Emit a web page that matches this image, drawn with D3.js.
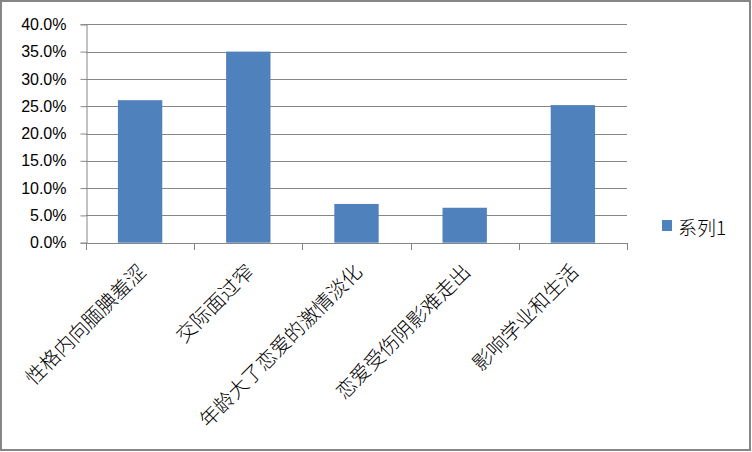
<!DOCTYPE html>
<html>
<head>
<meta charset="utf-8">
<script src="https://cdn.jsdelivr.net/npm/d3@7"></script>
<style>
  body { margin: 0; background: #fff; }
</style>
</head>
<body>
<div id="chart"></div>
<script>
var categories = ["性格内向腼腆羞涩", "交际面过窄", "年龄大了恋爱的激情淡化", "恋爱受伤阴影难走出", "影响学业和生活"];
var values = [0.261, 0.350, 0.071, 0.064, 0.252];
var yTicks = [0, 0.05, 0.10, 0.15, 0.20, 0.25, 0.30, 0.35, 0.40];
var seriesName = "系列1";

var width = 752, height = 452;
var plotLeft = 86, plotRight = 627, plotTop = 24.3, plotBottom = 242.7;
var gray = "#868686", barColor = "#4F81BD";
var cjk = "'Noto Sans CJK SC', sans-serif";

var svg = d3.select("#chart").append("svg")
    .attr("width", width)
    .attr("height", height);

svg.append("rect")
    .attr("x", 0).attr("y", 0)
    .attr("width", width).attr("height", height)
    .attr("fill", "#fff");

// outer border
svg.append("rect")
    .attr("x", 1).attr("y", 1)
    .attr("width", 749).attr("height", 449)
    .attr("fill", "none")
    .attr("stroke", gray)
    .attr("stroke-width", 2);

var x = d3.scaleBand()
    .domain(categories)
    .range([plotLeft, plotRight])
    .padding(0);

var y = d3.scaleLinear()
    .domain([0, 0.4])
    .range([plotBottom, plotTop]);

// gridlines
svg.append("g")
    .selectAll("line")
    .data(yTicks.slice(1))
    .join("line")
    .attr("x1", plotLeft).attr("x2", plotRight)
    .attr("y1", d => Math.round(y(d)) + 0.5)
    .attr("y2", d => Math.round(y(d)) + 0.5)
    .attr("stroke", gray)
    .attr("stroke-width", 1);

// y axis
var yAxis = d3.axisLeft(y)
    .tickValues(yTicks)
    .tickSize(6)
    .tickPadding(14)
    .tickFormat(d3.format(".1%"));

var gy = svg.append("g")
    .attr("transform", "translate(" + (plotLeft + 0.5) + ",0)")
    .call(yAxis);
gy.select(".domain").attr("stroke", gray);
gy.selectAll(".tick line").attr("stroke", gray);
gy.selectAll(".tick text")
    .attr("fill", "#000")
    .style("font-family", "'Liberation Sans', Arial, sans-serif")
    .style("font-size", "16px");

// bars
var barW = x.bandwidth() * 0.41;
svg.append("g")
    .selectAll("rect")
    .data(values)
    .join("rect")
    .attr("x", (d, i) => x(categories[i]) + x.bandwidth() / 2 - barW / 2)
    .attr("y", d => y(d))
    .attr("width", barW)
    .attr("height", d => y(0) - y(d))
    .attr("fill", barColor);

// x axis line + ticks at band edges
var xg = svg.append("g");
xg.append("line")
    .attr("x1", plotLeft).attr("x2", plotRight)
    .attr("y1", Math.round(plotBottom) + 0.5).attr("y2", Math.round(plotBottom) + 0.5)
    .attr("stroke", gray);
var edges = categories.map(c => x(c)).concat([plotRight]);
xg.selectAll("line.tk")
    .data(edges)
    .join("line")
    .attr("class", "tk")
    .attr("x1", d => Math.round(d) + 0.5).attr("x2", d => Math.round(d) + 0.5)
    .attr("y1", Math.round(plotBottom)).attr("y2", Math.round(plotBottom) + 7)
    .attr("stroke", gray);

// rotated category labels
svg.append("g")
    .selectAll("text")
    .data(categories)
    .join("text")
    .attr("transform", d => "translate(" + (x(d) + x.bandwidth() / 2 + 1) + ",267) rotate(-45)")
    .attr("text-anchor", "end")
    .attr("dominant-baseline", "central")
    .style("font-family", cjk)
    .style("font-size", "20px")
    .style("font-weight", 300)
    .attr("fill", "#000")
    .text(d => d);

// legend
var legend = svg.append("g").attr("transform", "translate(662,220)");
legend.append("rect")
    .attr("width", 10).attr("height", 11)
    .attr("fill", barColor);
legend.append("text")
    .attr("x", 16).attr("y", 6)
    .attr("dominant-baseline", "central")
    .style("font-family", cjk)
    .style("font-size", "19px")
    .style("font-weight", 300)
    .attr("fill", "#000")
    .text(seriesName);
</script>
</body>
</html>
